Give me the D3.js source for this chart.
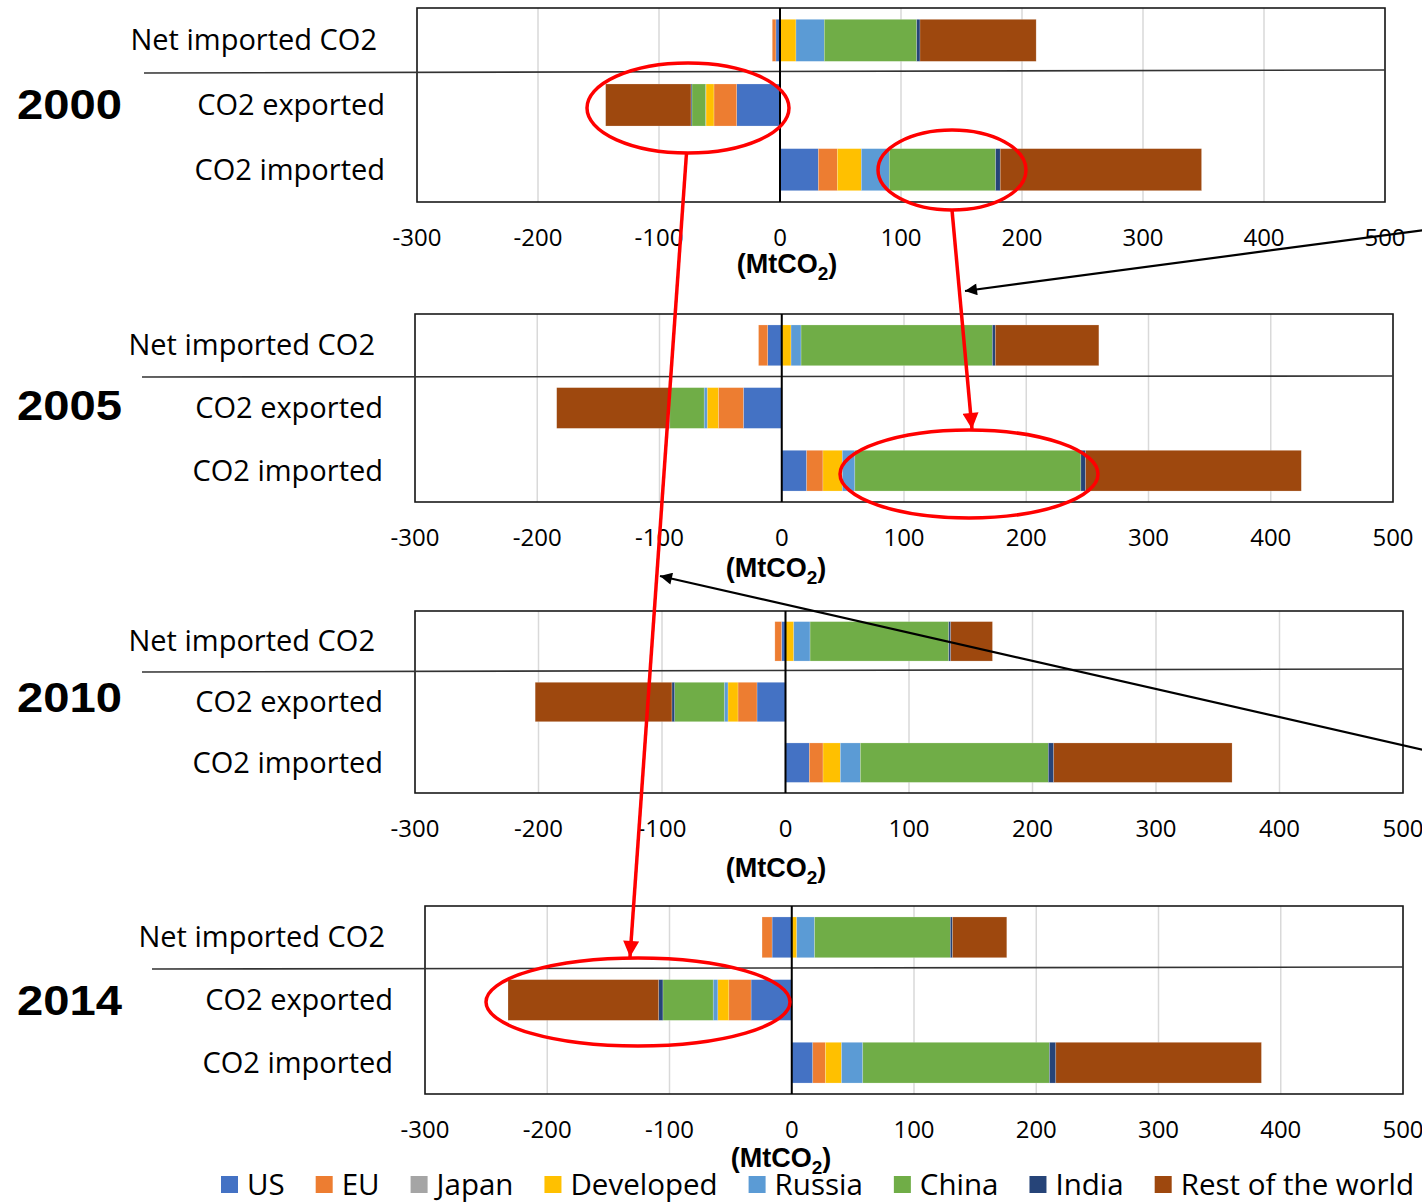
<!DOCTYPE html>
<html><head><meta charset="utf-8">
<script src="https://cdn.jsdelivr.net/npm/d3@7"></script>
<style>body{margin:0;background:#fff}svg{display:block}</style>
</head><body><svg id="c" width="1422" height="1204"></svg>
<script>
// ---------- data ----------
const series = ["US","EU","Japan","Developed","Russia","China","India","Rest of the world"];
const colors = ["#4472C4","#ED7D31","#A5A5A5","#FFC000","#5B9BD5","#70AD47","#264478","#9E480E"];
const rows = ["Net imported CO2","CO2 exported","CO2 imported"];
const years = ["2000","2005","2010","2014"];
const tickValues = [-300,-200,-100,0,100,200,300,400,500];

// values in MtCO2, order = series
const net2000      = [-3.4, -3.0, 0, 13.2, 23.4, 76.4, 2.7, 96.0];
const exported2000 = [-35.8, -18.8, 0, -6.6, -0.3, -11.3, -0.8, -70.5];
const imported2000 = [31.7, 15.7, 0, 19.8, 23.1, 87.9, 3.8, 166.4];

const net2005      = [-11.5, -7.5, 0, 7.6, 8.2, 156.5, 2.4, 84.7];
const exported2005 = [-31.4, -20.5, 0, -9.1, -2.5, -28.1, -0.5, -92.0];
const imported2005 = [20.4, 13.3, 0, 15.8, 10.3, 184.9, 3.9, 176.4];

const net2010      = [-3.2, -5.4, 0, 6.7, 13.2, 112.3, 1.6, 33.8];
const exported2010 = [-23.1, -15.4, 0, -8.1, -3.0, -40.2, -2.2, -110.7];
const imported2010 = [19.3, 11.1, 0, 14.0, 16.2, 152.2, 4.4, 144.4];

const net2014      = [-16.1, -8.2, 0, 4.1, 14.6, 111.0, 1.8, 44.4];
const exported2014 = [-33.3, -18.2, 0, -9.0, -3.8, -41.1, -3.5, -123.2];
const imported2014 = [17.2, 10.4, 0, 13.1, 17.4, 152.7, 5.2, 168.2];

const yearValues = [
  [net2000, exported2000, imported2000],
  [net2005, exported2005, imported2005],
  [net2010, exported2010, imported2010],
  [net2014, exported2014, imported2014]
];

// ---------- layout ----------
const panels = [
  {left:417, right:1385, top:8,   bottom:202,  sepLeft:144, sepY0:73,  sepY1:70,  yearY:119,  unitX:787, unitY:273},
  {left:415, right:1393, top:314, bottom:502,  sepLeft:142, sepY0:377, sepY1:376, yearY:420,  unitX:776, unitY:577},
  {left:415, right:1403, top:611, bottom:793,  sepLeft:142, sepY0:672, sepY1:669, yearY:712,  unitX:776, unitY:877},
  {left:425, right:1403, top:906, bottom:1094, sepLeft:152, sepY0:969, sepY1:967, yearY:1015, unitX:781, unitY:1167}
];
const FONT = "'Open Sans', 'Noto Sans', sans-serif";
const ARIAL = "'Liberation Sans', Arial, sans-serif";

const svg = d3.select("#c");
svg.append("rect").attr("width",1422).attr("height",1204).attr("fill","#fff");

const stack = d3.stack().keys(series).offset(d3.stackOffsetDiverging);

panels.forEach((p, pi) => {
  const g = svg.append("g");
  const x = d3.scaleLinear().domain([-300, 500]).range([p.left, p.right]);
  const y = d3.scaleBand().domain(rows).range([p.top, p.bottom]).paddingInner(0.35).paddingOuter(0.175);

  // gridlines
  g.selectAll("line.grid").data(tickValues).join("line")
    .attr("x1", d => x(d)).attr("x2", d => x(d))
    .attr("y1", p.top).attr("y2", p.bottom)
    .attr("stroke", "#d9d9d9").attr("stroke-width", 1.5);

  // bars
  const table = rows.map((r, ri) => {
    const o = {row: r};
    series.forEach((s, si) => o[s] = yearValues[pi][ri][si]);
    return o;
  });
  const stacked = stack(table);
  stacked.forEach((layer, li) => {
    g.append("g").attr("fill", colors[li])
      .selectAll("rect").data(layer).join("rect")
      .attr("x", d => x(Math.min(d[0], d[1])))
      .attr("width", d => Math.abs(x(d[1]) - x(d[0])))
      .attr("y", d => y(d.data.row))
      .attr("height", y.bandwidth())
      .attr("stroke", "#fff").attr("stroke-opacity", 0.35).attr("stroke-width", 0.6);
  });

  // frame
  g.append("rect").attr("x", p.left).attr("y", p.top)
    .attr("width", p.right - p.left).attr("height", p.bottom - p.top)
    .attr("fill", "none").attr("stroke", "#1a1a1a").attr("stroke-width", 1.6);

  // separator line
  g.append("line").attr("x1", p.sepLeft).attr("x2", p.right)
    .attr("y1", p.sepY0).attr("y2", p.sepY1)
    .attr("stroke", "#333").attr("stroke-width", 1.6);

  // zero axis
  g.append("line").attr("x1", x(0)).attr("x2", x(0))
    .attr("y1", p.top).attr("y2", p.bottom)
    .attr("stroke", "#000").attr("stroke-width", 2);

  // tick labels
  g.selectAll("text.tick").data(tickValues).join("text")
    .attr("x", d => x(d)).attr("y", p.bottom + 44)
    .attr("text-anchor", "middle")
    .attr("font-family", FONT).attr("font-size", 24).attr("fill", "#000")
    .text(d => d);

  // category labels
  g.selectAll("text.cat").data(rows).join("text")
    .attr("x", (d, i) => p.left - (i === 0 ? 40 : 32))
    .attr("y", d => y(d) + y.bandwidth() / 2 + 10)
    .attr("text-anchor", "end")
    .attr("font-family", FONT).attr("font-size", 29).attr("fill", "#000")
    .text(d => d);

  // year
  g.append("text").attr("x", 17).attr("y", p.yearY)
    .attr("font-family", ARIAL).attr("font-weight", "bold").attr("font-size", 43)
    .attr("textLength", 105).attr("lengthAdjust", "spacingAndGlyphs")
    .attr("fill", "#000").text(years[pi]);

  // unit
  const u = g.append("text").attr("x", p.unitX).attr("y", p.unitY)
    .attr("text-anchor", "middle")
    .attr("font-family", ARIAL).attr("font-weight", "bold").attr("font-size", 27).attr("fill", "#000");
  u.append("tspan").text("(MtCO");
  u.append("tspan").attr("font-size", 19).attr("dy", 7).text("2");
  u.append("tspan").attr("dy", -7).text(")");
});

// ---------- legend ----------
const leg = svg.append("g");
let lx = 221;
series.forEach((s, i) => {
  leg.append("rect").attr("x", lx).attr("y", 1176).attr("width", 17).attr("height", 17).attr("fill", colors[i]);
  const t = leg.append("text").attr("x", lx + 26).attr("y", 1195)
    .attr("font-family", FONT).attr("font-size", 29.5).attr("fill", "#000").text(s);
  lx += 26 + t.node().getComputedTextLength() + 31;
});

// ---------- annotations ----------
const defs = svg.append("defs");
function marker(id, color, w, h) {
  defs.append("marker").attr("id", id).attr("viewBox", "0 0 10 10")
    .attr("refX", 10).attr("refY", 5).attr("markerUnits", "userSpaceOnUse")
    .attr("markerWidth", w).attr("markerHeight", h).attr("orient", "auto")
    .append("path").attr("d", "M0,0 L10,5 L0,10 z").attr("fill", color);
}
marker("redHead", "#ff0000", 18, 16);
marker("blackHead", "#000", 14, 12);

const ann = svg.append("g");
const ellipses = [
  {cx:688, cy:108, rx:101, ry:45},
  {cx:952, cy:170, rx:74,  ry:40},
  {cx:969, cy:474, rx:129, ry:44},
  {cx:638, cy:1002, rx:152, ry:44}
];
ann.selectAll("ellipse").data(ellipses).join("ellipse")
  .attr("cx", d => d.cx).attr("cy", d => d.cy).attr("rx", d => d.rx).attr("ry", d => d.ry)
  .attr("fill", "none").attr("stroke", "#ff0000").attr("stroke-width", 3.5);

const arrows = [
  {x1:686.5, y1:153, x2:630, y2:957, c:"#ff0000", w:3.5, m:"redHead"},
  {x1:952,   y1:210, x2:972, y2:429, c:"#ff0000", w:3.5, m:"redHead"},
  {x1:1424,  y1:230, x2:965, y2:291, c:"#000",    w:2.2, m:"blackHead"},
  {x1:1424,  y1:750, x2:660, y2:576, c:"#000",    w:2.2, m:"blackHead"}
];
ann.selectAll("line").data(arrows).join("line")
  .attr("x1", d => d.x1).attr("y1", d => d.y1).attr("x2", d => d.x2).attr("y2", d => d.y2)
  .attr("stroke", d => d.c).attr("stroke-width", d => d.w)
  .attr("marker-end", d => `url(#${d.m})`);
</script>
</body></html>
